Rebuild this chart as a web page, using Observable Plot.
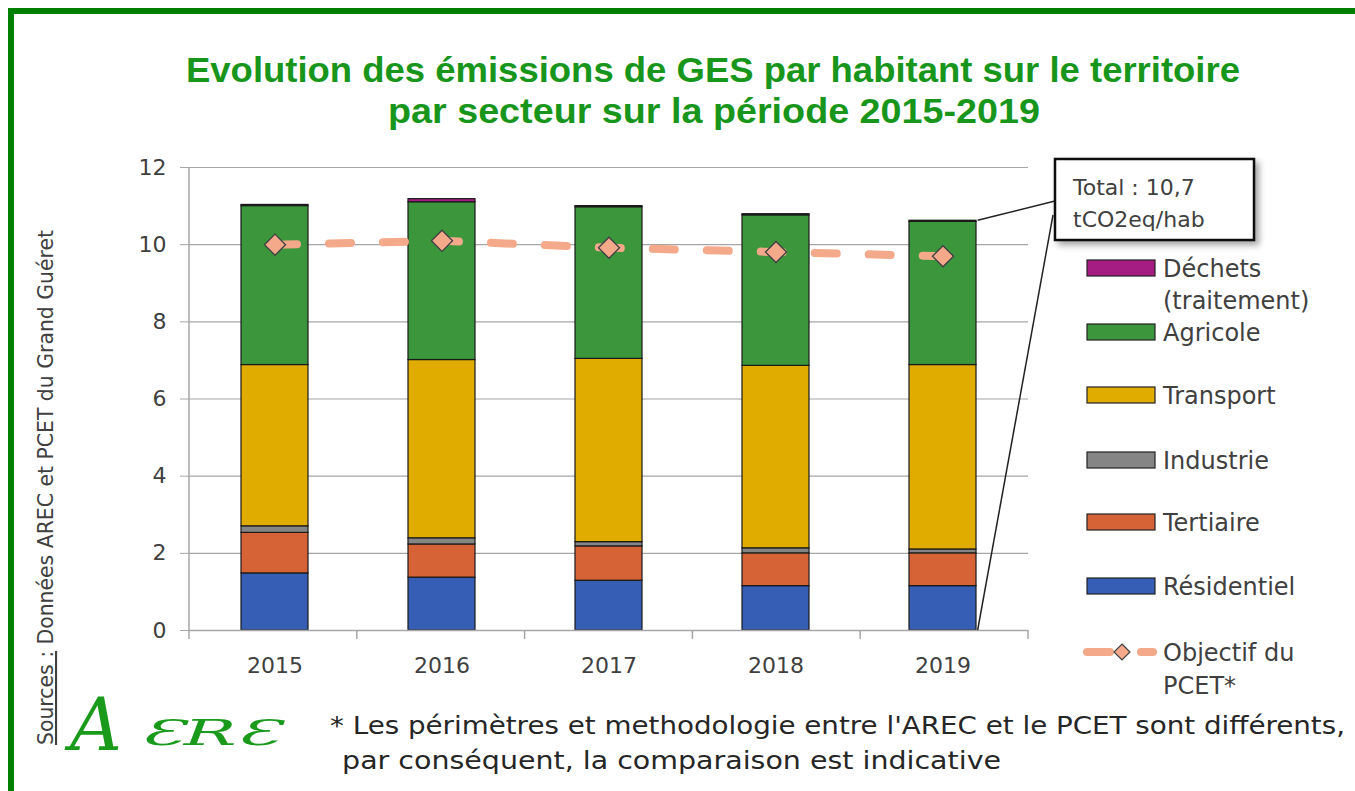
<!DOCTYPE html>
<html><head><meta charset="utf-8">
<script src="https://cdn.jsdelivr.net/npm/d3@7"></script>
<script src="https://cdn.jsdelivr.net/npm/@observablehq/plot@0.6"></script>
<style>
body{margin:0;background:#fff;}
#wrap{position:relative;width:1355px;height:791px;overflow:hidden;background:#fff;}
#wrap svg{position:absolute;left:0;top:0;}
</style></head>
<body><div id="wrap"></div>
<script>
// ---- data ----
const years = ["2015", "2016", "2017", "2018", "2019"];
const sectors = ["Résidentiel", "Tertiaire", "Industrie", "Transport", "Agricole", "Déchets (traitement)"];
const residentiel = [1.48, 1.37, 1.29, 1.15, 1.15];
const tertiaire   = [1.05, 0.86, 0.89, 0.85, 0.85];
const industrie   = [0.17, 0.16, 0.11, 0.13, 0.10];
const transport   = [4.18, 4.62, 4.75, 4.73, 4.78];
const agricole    = [4.12, 4.09, 3.93, 3.90, 3.71];
const dechets     = [0.03, 0.08, 0.03, 0.03, 0.03];
const objectif    = [10.0, 10.1, 9.92, 9.81, 9.7];
const yTicks = [0, 2, 4, 6, 8, 10, 12];
const sectorColors = ["#355EB4", "#D66336", "#858585", "#E0AC00", "#3C963C", "#A51C82"];
const objectifLabel = ["Objectif du", "PCET*"];
const calloutText = ["Total : 10,7", "tCO2eq/hab"];
const titleLines = ["Evolution des émissions de GES par habitant sur le territoire", "par secteur sur la période 2015-2019"];
const footLines = ["* Les périmètres et methodologie entre l'AREC et le PCET sont différents,", " par conséquent, la comparaison est indicative"];

const series = [residentiel, tertiaire, industrie, transport, agricole, dechets];
const table = years.flatMap((y, i) => sectors.map((s, j) => ({year: y, sector: s, value: series[j][i]})));
const objData = years.map((y, i) => ({year: y, value: objectif[i]}));

const FONT = "'DejaVu Sans', sans-serif";
const W = 1355, H = 791;
const mL = 189, mR = 327, mT = 167, mB = 161;

const chart = Plot.plot({
  width: W, height: H,
  marginLeft: mL, marginRight: mR, marginTop: mT, marginBottom: mB,
  style: {fontFamily: FONT, background: "transparent", color: "#404040"},
  x: {domain: years, paddingInner: 0.6, paddingOuter: 0.3, axis: null, label: null},
  y: {domain: [0, 12], axis: null, label: null},
  color: {domain: sectors, range: sectorColors},
  marks: [
    Plot.gridY(yTicks, {stroke: "#a6a6a6", strokeOpacity: 1, strokeWidth: 1.2}),
    Plot.barY(table, {x: "year", y: "value", fill: "sector", order: sectors, stroke: "#1a1a1a", strokeWidth: 1.2}),
    Plot.ruleY([0], {stroke: "#a6a6a6", strokeWidth: 1.5}),
    Plot.axisY(yTicks, {tickSize: 9, tickPadding: 14, fontSize: 22, stroke: "#a6a6a6", fill: "#404040", tickFormat: d => d, label: null}),
    Plot.axisX({tickSize: 0, tickPadding: 27, fontSize: 22, fill: "#404040", label: null}),
    Plot.line(objData, {x: "year", y: "value", stroke: "#F4A98A", strokeWidth: 8, strokeDasharray: "22,32", strokeLinecap: "round"}),
    Plot.dot(objData, {x: "year", y: "value", symbol: "diamond2", r: 9.5, fill: "#F4A98A", stroke: "#404040", strokeWidth: 1.3})
  ]
});
document.getElementById("wrap").appendChild(chart);

// helper scales mirroring the plot's scales for annotations
const xs = d3.scaleBand().domain(years).range([mL, W - mR]).paddingInner(0.6).paddingOuter(0.3);
const ys = d3.scaleLinear().domain([0, 12]).range([H - mB, mT]);
const step = xs.step();

const svg = d3.select(chart);
// y-axis line
svg.append("line").attr("x1", mL).attr("x2", mL).attr("y1", ys(0)).attr("y2", ys(12)).attr("stroke", "#a6a6a6").attr("stroke-width", 1.5);
// x-axis category ticks
years.concat(["end"]).forEach((_, k) => {
  const xp = mL + k * step;
  svg.append("line").attr("x1", xp).attr("x2", xp).attr("y1", ys(0)).attr("y2", ys(0) + 9).attr("stroke", "#a6a6a6").attr("stroke-width", 1.5);
});

// overlay svg
const ov = d3.select("#wrap").append("svg").attr("width", W).attr("height", H).style("font-family", FONT);
const defs = ov.append("defs");
const f = defs.append("filter").attr("id", "sh").attr("x", "-20%").attr("y", "-20%").attr("width", "150%").attr("height", "160%");
f.append("feDropShadow").attr("dx", 4).attr("dy", 4).attr("stdDeviation", 3).attr("flood-color", "#000").attr("flood-opacity", 0.35);

// border
ov.append("rect").attr("x", 11).attr("y", 11).attr("width", 1400).attr("height", 900).attr("fill", "none").attr("stroke", "#008000").attr("stroke-width", 6);

// title
titleLines.forEach((t, i) => {
  ov.append("text").attr("x", i === 0 ? 186 : 388).attr("y", i === 0 ? 82 : 123)
    .attr("textLength", i === 0 ? 1054 : 652).attr("lengthAdjust", "spacingAndGlyphs")
    .attr("font-family", "'Liberation Sans', Arial, sans-serif").attr("font-weight", "bold").attr("font-size", 35)
    .attr("fill", "#17961b").text(t);
});

// callout
const last = years[years.length - 1];
const lastTotal = d3.sum(series, s => s[s.length - 1]);
const ax = xs(last) + xs.bandwidth(), ay = ys(lastTotal);
ov.append("line").attr("x1", ax).attr("y1", ay).attr("x2", 1055).attr("y2", 201).attr("stroke", "#222").attr("stroke-width", 1.5);
ov.append("line").attr("x1", ax).attr("y1", ys(0)).attr("x2", 1053).attr("y2", 215).attr("stroke", "#222").attr("stroke-width", 1.5);
ov.append("rect").attr("x", 1055).attr("y", 159).attr("width", 199).attr("height", 81).attr("fill", "#fff").attr("stroke", "#111").attr("stroke-width", 2.5).attr("filter", "url(#sh)");
calloutText.forEach((t, i) => {
  ov.append("text").attr("x", 1073).attr("y", 195 + i * 32).attr("font-size", 22).attr("fill", "#404040").text(t);
});

// legend
const legendItems = [
  {lines: ["Déchets", "(traitement)"], y: 268, color: sectorColors[5]},
  {lines: ["Agricole"], y: 332, color: sectorColors[4]},
  {lines: ["Transport"], y: 395, color: sectorColors[3]},
  {lines: ["Industrie"], y: 460, color: sectorColors[2]},
  {lines: ["Tertiaire"], y: 522, color: sectorColors[1]},
  {lines: ["Résidentiel"], y: 586, color: sectorColors[0]}
];
legendItems.forEach(it => {
  ov.append("rect").attr("x", 1087).attr("y", it.y - 8).attr("width", 68).attr("height", 16).attr("fill", it.color).attr("stroke", "#222").attr("stroke-width", 1.2);
  it.lines.forEach((l, i) => {
    ov.append("text").attr("x", 1163).attr("y", it.y + 32 * i).attr("dy", "0.36em").attr("font-size", 24).attr("fill", "#404040").text(l);
  });
});
// objectif legend
ov.append("line").attr("x1", 1087).attr("x2", 1110).attr("y1", 652).attr("y2", 652).attr("stroke", "#F4A98A").attr("stroke-width", 8).attr("stroke-linecap", "round");
ov.append("line").attr("x1", 1141).attr("x2", 1153).attr("y1", 652).attr("y2", 652).attr("stroke", "#F4A98A").attr("stroke-width", 8).attr("stroke-linecap", "round");
ov.append("path").attr("d", "M1122,644L1130,652L1122,660L1114,652Z").attr("fill", "#F4A98A").attr("stroke", "#404040").attr("stroke-width", 1.2);
objectifLabel.forEach((l, i) => {
  ov.append("text").attr("x", 1163).attr("y", 652 + 33 * i).attr("dy", "0.36em").attr("font-size", 24).attr("fill", "#404040").text(l);
});

// sources (vertical)
const src = ov.append("text").attr("transform", "translate(53,745) rotate(-90)").attr("font-size", 21).attr("fill", "#404040")
  .attr("textLength", 515).attr("lengthAdjust", "spacingAndGlyphs");
src.append("tspan").attr("text-decoration", "underline").text("Sources :");
src.append("tspan").text(" Données AREC et PCET du Grand Guéret");

// footer
footLines.forEach((t, i) => {
  ov.append("text").attr("x", i === 0 ? 330 : 333).attr("y", 734 + i * 35).attr("font-size", 24).attr("fill", "#262626")
    .attr("textLength", i === 0 ? 1015 : 668).attr("lengthAdjust", "spacingAndGlyphs").attr("xml:space", "preserve").text(t);
});

// logo
ov.append("text").attr("x", 70).attr("y", 750).attr("font-family", "'DejaVu Serif', serif").attr("font-style", "italic")
  .attr("font-size", 72).attr("fill", "#1a9a1a").text("A");
ov.append("text").attr("x", 140).attr("y", 745).attr("font-family", "'DejaVu Serif', serif").attr("font-style", "italic")
  .attr("font-size", 36).attr("fill", "#1a9a1a").attr("textLength", 140).attr("lengthAdjust", "spacingAndGlyphs").text("ƐRƐ");
</script>
</body></html>
